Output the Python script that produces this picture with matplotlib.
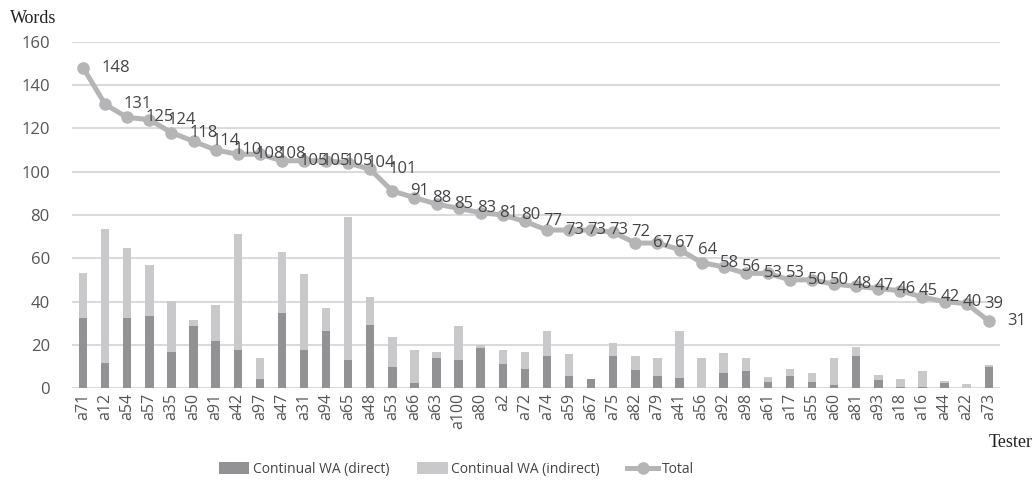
import matplotlib
matplotlib.use("Agg")
import matplotlib.pyplot as plt
import numpy as np

testers = ["a71", "a12", "a54", "a57", "a35", "a50", "a91", "a42", "a97", "a47",
           "a31", "a94", "a65", "a48", "a53", "a66", "a63", "a100", "a80", "a2",
           "a72", "a74", "a59", "a67", "a75", "a82", "a79", "a41", "a56", "a92",
           "a98", "a61", "a17", "a55", "a60", "a81", "a93", "a18", "a16", "a44",
           "a22", "a73"]

direct = [32.6, 11.7, 32.3, 33.5, 16.5, 28.5, 22, 17.4, 4.3, 34.5,
          17.8, 26.2, 13.2, 29.2, 10, 2.6, 13.7, 13.2, 18.5, 11,
          9, 15, 5.7, 4.3, 15, 8.5, 5.8, 4.9, 0, 7.1,
          7.8, 2.9, 5.8, 2.9, 1.5, 15, 3.8, 0.6, 0.5, 2.2,
          0, 10]
indirect = [20.6, 61.7, 32.6, 23.5, 23.8, 3, 16.6, 54, 9.7, 28.4,
            34.7, 10.6, 65.8, 13.1, 13.7, 14.8, 3.2, 15.7, 1.5, 6.4,
            7.9, 11.2, 10.3, 0, 5.8, 6.4, 8.2, 21.7, 13.7, 9.1,
            6, 2.3, 3.1, 4.2, 12.3, 4.2, 2.2, 3.6, 7.5, 1,
            2, 0.9]
total = [148, 131, 125, 124, 118, 114, 110, 108, 108, 105,
         105, 105, 104, 101, 91, 88, 85, 83, 81, 80,
         77, 73, 73, 73, 72, 67, 67, 64, 58, 56,
         53, 53, 50, 50, 48, 47, 46, 45, 42, 40,
         39, 31]

plt.rcParams['font.family'] = ['Open Sans', 'DejaVu Sans']

fig = plt.figure(figsize=(10.32, 4.84), dpi=100)
ax = fig.add_axes([0.0698, 0.198, 0.899, 0.716])

x = np.arange(len(testers))
w = 0.38
b1 = ax.bar(x, direct, w, color='#929294', label='Continual WA (direct)', zorder=2)
b2 = ax.bar(x, indirect, w, bottom=direct, color='#c9c9cb', label='Continual WA (indirect)', zorder=2)
l1, = ax.plot(x, total, color='#b5b5b8', lw=3.6, marker='o', ms=8, label='Total', zorder=3)

for xi, t in zip(x, total):
    ax.annotate(str(t), xy=(xi, t), xytext=(13, 0), textcoords='offset points',
                ha='left', va='center', fontsize=12, color='#444444', zorder=4)

ax.set_xlim(-0.5, len(testers) - 0.5)
ax.set_ylim(0, 160)
ax.set_yticks(range(0, 161, 20))
ax.yaxis.grid(True, color='#dadada', lw=1.5, zorder=0)
ax.set_axisbelow(True)
for s in ax.spines.values():
    s.set_visible(False)
ax.tick_params(axis='both', length=0, labelsize=12, colors='#555555')
ax.tick_params(axis='y', pad=16)
ax.set_xticks(x)
ax.set_xticklabels(testers, rotation=90, fontsize=11.5)

fig.text(0.010, 0.962, 'Words', fontsize=13, family='Liberation Serif', color='#222222', va='center')
fig.text(0.958, 0.085, 'Tester', fontsize=13, family='Liberation Serif', color='#222222', va='center')

fig.legend(handles=[b1, b2, l1], loc='center', bbox_to_anchor=(0.442, 0.03), ncol=3,
           frameon=False, fontsize=10, handlelength=2.2, handleheight=0.9,
           columnspacing=2.0, handletextpad=0.25, labelcolor='#444444')

plt.savefig('out.png', dpi=100)
